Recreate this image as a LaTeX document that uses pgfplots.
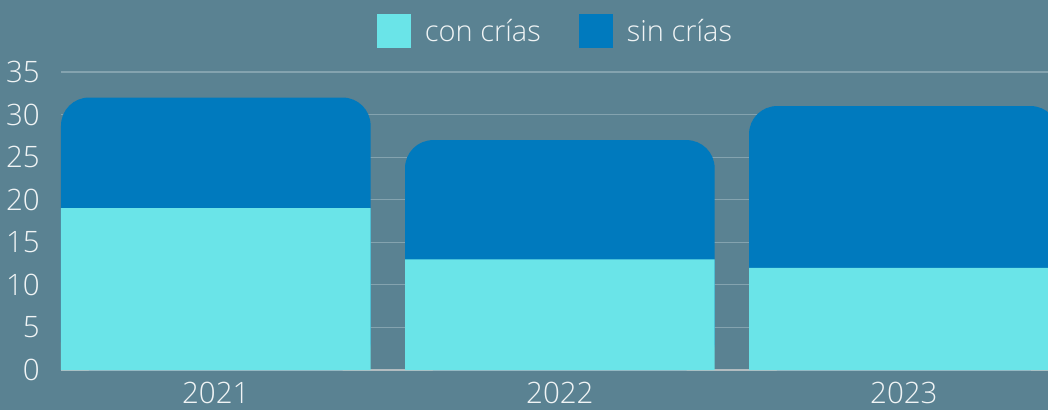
\documentclass[border=0pt]{standalone}
\usepackage{fontspec}
\setmainfont{Open Sans}[UprightFont=* Light]
\usepackage{pgfplots}
\pgfplotsset{compat=1.18}
\usetikzlibrary{backgrounds,calc}
\definecolor{bgc}{RGB}{90,130,146}
\definecolor{gridc}{RGB}{132,163,175}
\definecolor{axisc}{RGB}{178,188,192}
\definecolor{textc}{RGB}{240,244,245}
\definecolor{barcyan}{RGB}{106,228,232}
\definecolor{barblue}{RGB}{0,122,190}
\begin{document}
\begin{tikzpicture}
\begin{axis}[
  width=987pt, height=298pt, scale only axis,
  ybar, bar width=0.9,
  xmin=-0.45, xmax=2.419, ymin=0, ymax=35,
  xtick={0,1,2}, xticklabels={2021,2022,2023},
  ytick={0,5,...,35},
  /pgf/number format/assume math mode=true,
  ymajorgrids, grid style={gridc, line width=1.2pt},
  axis lines*=left, axis line style={-},
  y axis line style={draw=none},
  x axis line style={draw=axisc, line width=1.4pt},
  major tick length=0pt, tick style={draw=none},
  tick label style={text=textc, font=\fontsize{29.5}{36}\selectfont, inner sep=0pt},
  yticklabel style={xshift=-21pt},
  xticklabel style={yshift=-12pt},
  legend style={draw=none, fill=none, text=textc, font=\fontsize{29}{36}\selectfont,
    at={(0.5,1.1376)}, anchor=center, legend columns=2,
    nodes={inner sep=0pt},
    /tikz/every odd column/.append style={column sep=14pt},
    /tikz/every even column/.append style={column sep=38pt}},
  legend image code/.code={\fill[#1, sharp corners] (0pt,-17pt) rectangle (34pt,17pt);},
  reverse legend,
]
\addplot[fill=barblue, draw=none, bar shift=0pt, rounded corners=28pt] coordinates {(0,32) (1,27) (2,31)};
\addlegendentry{sin crías}
\addplot[fill=barcyan, draw=none, bar shift=0pt] coordinates {(0,19) (1,13) (2,12)};
\addlegendentry{con crías}
\coordinate (sw) at (rel axis cs:0,0);
\coordinate (ne) at (rel axis cs:1,1);
\end{axis}
\pgfresetboundingbox
\path[use as bounding box] ($(sw)+(-61pt,-40pt)$) rectangle ($(ne)+(0pt,72pt)$);
\begin{scope}[on background layer]
\fill[bgc] ($(sw)+(-61pt,-40pt)$) rectangle ($(ne)+(0pt,72pt)$);
\end{scope}
\end{tikzpicture}
\end{document}
